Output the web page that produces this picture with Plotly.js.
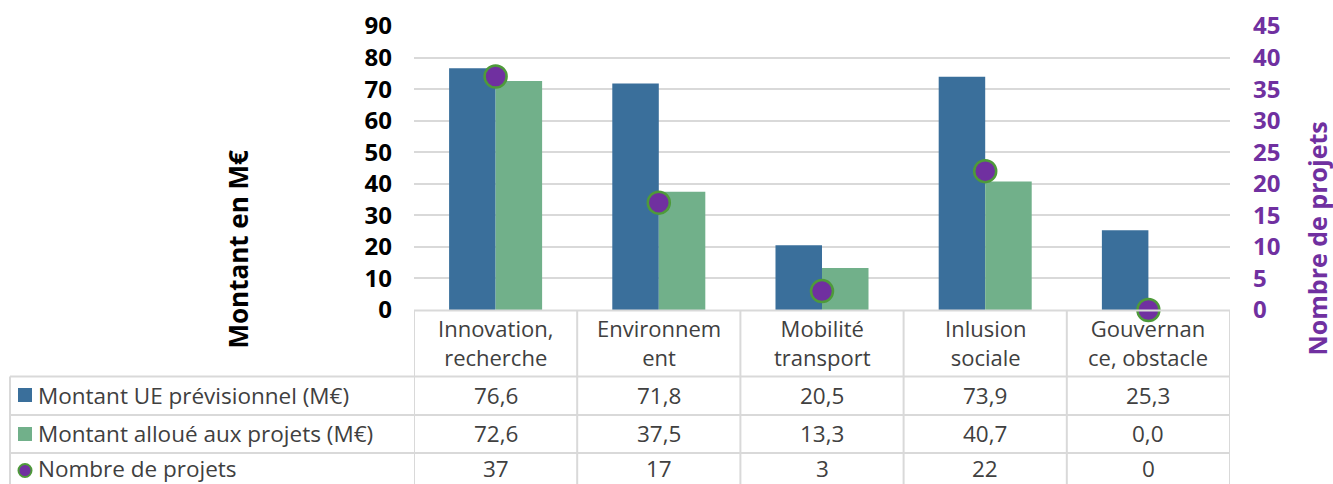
<!DOCTYPE html>
<html>
<head>
<meta charset="utf-8">
<script src="https://cdn.plot.ly/plotly-3.0.1.min.js"></script>
<style>html,body{margin:0;padding:0;background:#fff;}#chart{width:1333px;height:484px;}</style>
</head>
<body>
<div id="chart"></div>
<script>
const categories = ["Innovation, recherche", "Environnement", "Mobilité transport", "Inlusion sociale", "Gouvernance, obstacle"];
const headerLabels = ["Innovation,<br>recherche", "Environnem<br>ent", "Mobilité<br>transport", "Inlusion<br>sociale", "Gouvernan<br>ce, obstacle"];
const seriesNames = ["Montant UE prévisionnel (M€)", "Montant alloué aux projets (M€)", "Nombre de projets"];
const montantPrev = [76.6, 71.8, 20.5, 73.9, 25.3];
const montantAlloue = [72.6, 37.5, 13.3, 40.7, 0.0];
const nbProjets = [37, 17, 3, 22, 0];
const leftTicks = [0, 10, 20, 30, 40, 50, 60, 70, 80, 90];
const rightTicks = [0, 5, 10, 15, 20, 25, 30, 35, 40, 45];

const W = 1333, H = 484;
const L = 414, R = 1230, T = 26, B = 310;
const PW = R - L, PH = B - T;
const FONT = "Open Sans, Noto Sans, sans-serif";
const BLUE = "#3A6F9B", GREEN = "#71B08A", PURPLE = "#7030A0", MGREEN = "#4E9A3A";
const GRID = "#D9D9D9", TXT = "#404040";
const py = p => (B - p) / PH;
const px = p => (p - L) / PW;

const fmt1 = v => v.toFixed(1).replace('.', ',');

const traces = [
  {type: 'bar', name: seriesNames[0], x: categories, y: montantPrev, marker: {color: BLUE, line: {width: 0}}, hoverinfo: 'none'},
  {type: 'bar', name: seriesNames[1], x: categories, y: montantAlloue, marker: {color: GREEN, line: {width: 0}}, hoverinfo: 'none'},
  {type: 'scatter', mode: 'markers', name: seriesNames[2], x: categories, y: nbProjets, yaxis: 'y2', cliponaxis: false,
   marker: {color: PURPLE, size: 22, line: {color: MGREEN, width: 2.5}}, hoverinfo: 'none'}
];

const shapes = [];
const lineStyle = {color: GRID, width: 2};
shapes.push({type: 'line', xref: 'paper', yref: 'paper', x0: 0, x1: 1, y0: py(310.5), y1: py(310.5), line: lineStyle, layer: 'above'});
[376.5, 415, 453].forEach(p => shapes.push({type: 'line', xref: 'paper', yref: 'paper', x0: px(10), x1: 1, y0: py(p), y1: py(p), line: lineStyle}));
for (let i = 0; i <= categories.length; i++) {
  shapes.push({type: 'line', xref: 'x', yref: 'paper', x0: i - 0.5, x1: i - 0.5, y0: py(310), y1: py(490), line: lineStyle});
}
shapes.push({type: 'line', xref: 'paper', yref: 'paper', x0: px(10), x1: px(10), y0: py(376.5), y1: py(490), line: lineStyle});
shapes.push({type: 'rect', xref: 'paper', yref: 'paper', x0: px(18), x1: px(32), y0: py(402), y1: py(388), fillcolor: BLUE, line: {width: 0}});
shapes.push({type: 'rect', xref: 'paper', yref: 'paper', x0: px(18), x1: px(32), y0: py(441), y1: py(427), fillcolor: GREEN, line: {width: 0}});
shapes.push({type: 'circle', xref: 'paper', yref: 'paper', x0: px(18.5), x1: px(31.5), y0: py(477), y1: py(464), fillcolor: PURPLE, line: {color: MGREEN, width: 2}});

const annotations = [];
const tfont = {family: FONT, size: 22.5, color: TXT};
const ann = (xref, x, yPx, text, xanchor, font) => annotations.push({xref: xref, yref: 'paper', x: x, y: py(yPx), text: text, showarrow: false, xanchor: xanchor, yanchor: 'middle', font: font});
headerLabels.forEach((t, i) => ann('x', i, 342, t, 'center', {family: FONT, size: 22, color: TXT}));
const rowsY = [395, 434, 468.5];
const rows = [montantPrev.map(fmt1), montantAlloue.map(fmt1), nbProjets.map(v => String(v))];
rows.forEach((row, r) => {
  ann('paper', px(36), rowsY[r], seriesNames[r], 'left', tfont);
  row.forEach((t, i) => ann('x', i, rowsY[r], t, 'center', tfont));
});
annotations.push({xref: 'paper', yref: 'paper', x: px(237), y: py(249.5), text: '<b>Montant en M€</b>', textangle: -90, showarrow: false, xanchor: 'center', yanchor: 'middle', font: {family: FONT, size: 26, color: '#000'}});
annotations.push({xref: 'paper', yref: 'paper', x: px(1317), y: py(238.5), text: '<b>Nombre de projets</b>', textangle: -90, showarrow: false, xanchor: 'center', yanchor: 'middle', font: {family: FONT, size: 25, color: PURPLE}});

const layout = {
  width: W, height: H,
  margin: {l: L, r: W - R, t: T, b: H - B, pad: 0},
  paper_bgcolor: '#fff', plot_bgcolor: '#fff',
  showlegend: false,
  barmode: 'group', bargap: 0.43, bargroupgap: 0,
  xaxis: {type: 'category', range: [-0.5, categories.length - 0.5], showticklabels: false, ticks: '', showgrid: false, zeroline: false, showline: false, fixedrange: true},
  yaxis: {range: [0, 90], tickvals: leftTicks, ticktext: leftTicks.map(String), showgrid: true, gridcolor: GRID, gridwidth: 2, zeroline: false, showline: false,
          ticks: '', ticklabelstandoff: 21, tickfont: {family: FONT, size: 24, color: '#000', weight: 'bold'}},
  yaxis2: {range: [0, 45], overlaying: 'y', side: 'right', tickvals: rightTicks, ticktext: rightTicks.map(String), showgrid: false, zeroline: false, showline: false,
           ticks: '', ticklabelstandoff: 22, tickfont: {family: FONT, size: 24, color: PURPLE, weight: 'bold'}},
  shapes: shapes,
  annotations: annotations,
  font: {family: FONT}
};

Plotly.newPlot('chart', traces, layout, {staticPlot: true, displayModeBar: false});
</script>
</body>
</html>
